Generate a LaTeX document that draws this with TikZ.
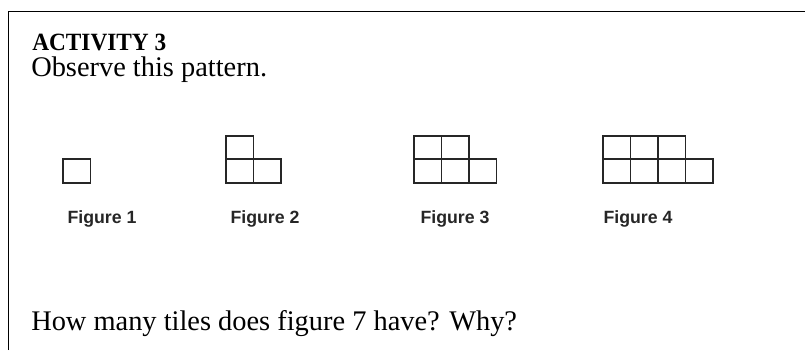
\documentclass[tikz,border=0pt]{standalone}
\usepackage{fontspec}
\setmainfont{Liberation Serif}
\newfontfamily\figfont{Liberation Sans}
\usepackage{tikz}
\usetikzlibrary{positioning}

\begin{document}
\begin{tikzpicture}[x=0.75pt, y=-0.75pt,
  tile/.style={draw=black!85, line width=1.1pt},
  caption/.style={font=\figfont\bfseries\fontsize{13.3}{16}\selectfont, anchor=base, inner sep=0pt, text=black!85},
  body/.style={font=\fontsize{21.3}{25}\selectfont, anchor=base west, inner sep=0pt}]
\useasboundingbox (0,0) rectangle (805,350);
\draw[line width=1pt] (8.5,350) -- (8.5,11.5) -- (805,11.5);
\node[body, font=\bfseries\fontsize{18.6}{22}\selectfont, xscale=0.94] (title) at (32,50) {ACTIVITY 3};
\node[body] (task) at (31,76) {Observe this pattern.};
\node[body] (question) at (31,330) {How many tiles does figure 7 have? Why?};
% tiles: figure n has n tiles below and n-1 on top
\foreach \n/\x in {1/63,2/226,3/414,4/603} {
  \foreach \i in {1,...,\n}
    \draw[tile] (\x+27.5*\i-27.5,159) rectangle ++(27.5,24);
  \ifnum\n>1
    \foreach \i in {2,...,\n}
      \draw[tile] (\x+27.5*\i-55,136) rectangle ++(27.5,23);
  \fi
}
\node[caption] (fig1) at (102,223) {Figure 1};
\node[caption] (fig2) at (265,223) {Figure 2};
\node[caption] (fig3) at (455,223) {Figure 3};
\node[caption] (fig4) at (638,223) {Figure 4};
\end{tikzpicture}
\end{document}
